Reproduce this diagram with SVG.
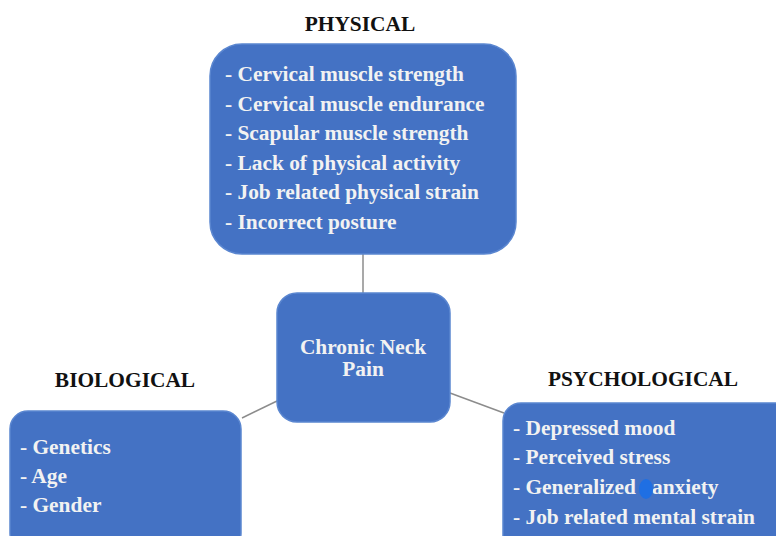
<svg xmlns="http://www.w3.org/2000/svg" width="776" height="536" viewBox="0 0 776 536">
<style>
.box{fill:#4472C4;stroke:#5a86d0;stroke-width:1.5}
.t{font-family:"Liberation Serif","Times New Roman",serif;font-weight:bold;font-size:21.4px;fill:#f2f2f2}
.h{font-family:"Liberation Serif","Times New Roman",serif;font-weight:bold;font-size:21.4px;fill:#111}
.c{stroke:#8c8c8c;stroke-width:1.5;fill:none}
</style>
<rect width="776" height="536" fill="#fff"/>
<g id="connectors">
<line class="c" x1="363" y1="254" x2="363" y2="293"/>
<line class="c" x1="242" y1="418" x2="277" y2="401"/>
<line class="c" x1="450" y1="393" x2="504" y2="413"/>
</g>
<g id="physical">
<text class="h" x="360" y="31" text-anchor="middle">PHYSICAL</text>
<rect class="box" x="210" y="44" width="306" height="210" rx="32"/>
<text class="t" x="225" y="81">- Cervical muscle strength</text>
<text class="t" x="225" y="111">- Cervical muscle endurance</text>
<text class="t" x="225" y="140">- Scapular muscle strength</text>
<text class="t" x="225" y="170">- Lack of physical activity</text>
<text class="t" x="225" y="199">- Job related physical strain</text>
<text class="t" x="225" y="229">- Incorrect posture</text>
</g>
<g id="center">
<rect class="box" x="277" y="293" width="173" height="129" rx="20"/>
<text class="t" x="363" y="354" text-anchor="middle">Chronic Neck<tspan x="363" dy="22">Pain</tspan></text>
</g>
<g id="biological">
<text class="h" x="125" y="387" text-anchor="middle">BIOLOGICAL</text>
<rect class="box" x="10" y="411" width="231" height="140" rx="18"/>
<text class="t" x="20" y="454">- Genetics</text>
<text class="t" x="20" y="483">- Age</text>
<text class="t" x="20" y="512">- Gender</text>
</g>
<g id="psychological">
<text class="h" x="643" y="386" text-anchor="middle">PSYCHOLOGICAL</text>
<rect class="box" x="503" y="403" width="290" height="150" rx="18"/>
<text class="t" x="513" y="435">- Depressed mood</text>
<text class="t" x="513" y="464">- Perceived stress</text>
<text class="t" x="513" y="494">- Generalized <tspan x="652">anxiety</tspan></text>
<text class="t" x="513" y="524">- Job related mental strain</text>
<ellipse cx="646" cy="489" rx="7" ry="10" fill="#1f6fe3"/>
</g>
</svg>
